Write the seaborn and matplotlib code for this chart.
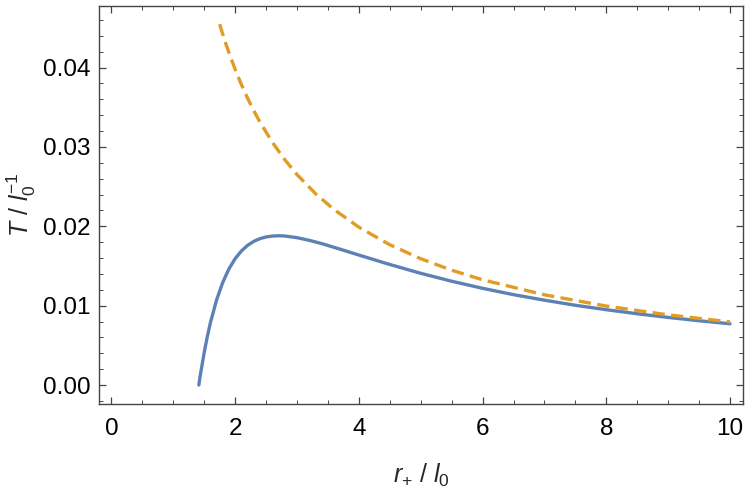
import numpy as np
import pandas as pd
import matplotlib
matplotlib.use("Agg")
import matplotlib.pyplot as plt
from matplotlib.ticker import MultipleLocator, FormatStrFormatter
import seaborn as sns

# Blue solid curve (regular black hole temperature)
r_reg = [1.414, 1.43, 1.45, 1.5, 1.55, 1.6, 1.7, 1.8, 1.9, 2.0, 2.1, 2.2, 2.3, 2.4,
         2.5, 2.6, 2.7, 2.8, 3.0, 3.2, 3.4, 3.6, 3.8, 4.0, 4.5, 5.0, 5.5, 6.0,
         6.5, 7.0, 7.5, 8.0, 8.5, 9.0, 9.5, 10.0]
T_reg = [0.0000, 0.0009, 0.00181, 0.00408, 0.00607, 0.00782, 0.01071, 0.01293,
         0.01463, 0.01592, 0.01688, 0.01759, 0.01810, 0.01844, 0.01866, 0.01877,
         0.01881, 0.01878, 0.01857, 0.01823, 0.01782, 0.01735, 0.01687, 0.01638,
         0.01519, 0.01408, 0.01308, 0.01219, 0.01139, 0.01069, 0.01005, 0.00949,
         0.00898, 0.00852, 0.00810, 0.00772]

# Orange dashed curve (Schwarzschild-like temperature)
r_sch = [1.75, 1.8, 1.85, 1.9, 2.0, 2.1, 2.2, 2.3, 2.4, 2.6, 2.8, 3.0, 3.3, 3.6,
         4.0, 4.5, 5.0, 5.5, 6.0, 7.0, 8.0, 9.0, 10.0]
T_sch = [0.04547, 0.04421, 0.04301, 0.04188, 0.03979, 0.03789, 0.03617, 0.03460,
         0.03316, 0.03061, 0.02842, 0.02653, 0.02411, 0.02211, 0.01989, 0.01768,
         0.01592, 0.01447, 0.01326, 0.01137, 0.00995, 0.00884, 0.00796]

x_ticks = [0, 2, 4, 6, 8, 10]
y_ticks = [0.00, 0.01, 0.02, 0.03, 0.04]

sns.set_style("ticks")
plt.rcParams['font.family'] = ['Liberation Sans', 'DejaVu Sans']
plt.rcParams['mathtext.fontset'] = 'custom'
plt.rcParams['mathtext.rm'] = 'Liberation Sans'
plt.rcParams['mathtext.it'] = 'Liberation Sans:italic'
plt.rcParams['mathtext.bf'] = 'Liberation Sans:bold'

fig = plt.figure(figsize=(7.5, 4.88), dpi=100)
ax = fig.add_axes([0.132, 0.1715, 0.8587, 0.8168])

df_reg = pd.DataFrame({"r": r_reg, "T": T_reg})
df_sch = pd.DataFrame({"r": r_sch, "T": T_sch})

sns.lineplot(data=df_reg, x="r", y="T", ax=ax, color="#5E81B5", lw=2.4,
             sort=False, estimator=None)
sns.lineplot(data=df_sch, x="r", y="T", ax=ax, color="#E19C24", lw=2.4,
             sort=False, estimator=None, dashes=False, linestyle=(0, (3.7, 1.9)))

ax.set_xlim(-0.2, 10.21)
ax.set_ylim(-0.00243, 0.0478)
ax.set_xticks(x_ticks)
ax.set_yticks(y_ticks)
ax.yaxis.set_major_formatter(FormatStrFormatter('%.2f'))
ax.xaxis.set_minor_locator(MultipleLocator(0.5))
ax.yaxis.set_minor_locator(MultipleLocator(0.002))

for s in ax.spines.values():
    s.set_visible(True)
    s.set_color('#444444')
    s.set_linewidth(1.0)

ax.tick_params(which='both', direction='in', top=True, right=True,
               color='#444444', labelsize=17.5, labelcolor='black')
ax.tick_params(which='major', length=5, width=0.9)
ax.tick_params(which='minor', length=3, width=0.7)
ax.tick_params(axis='x', which='major', pad=10)
ax.tick_params(axis='y', which='major', pad=5.8)

ax.set_xlabel(r'$r_{+}$ / $l_0$', fontsize=18)
ax.xaxis.set_label_coords(0.5, -0.145)
ax.set_ylabel(r'$T$ / $l_0^{-1}$', fontsize=18)
ax.yaxis.set_label_coords(-0.094, 0.5)

fig.savefig("out.png", dpi=100)
